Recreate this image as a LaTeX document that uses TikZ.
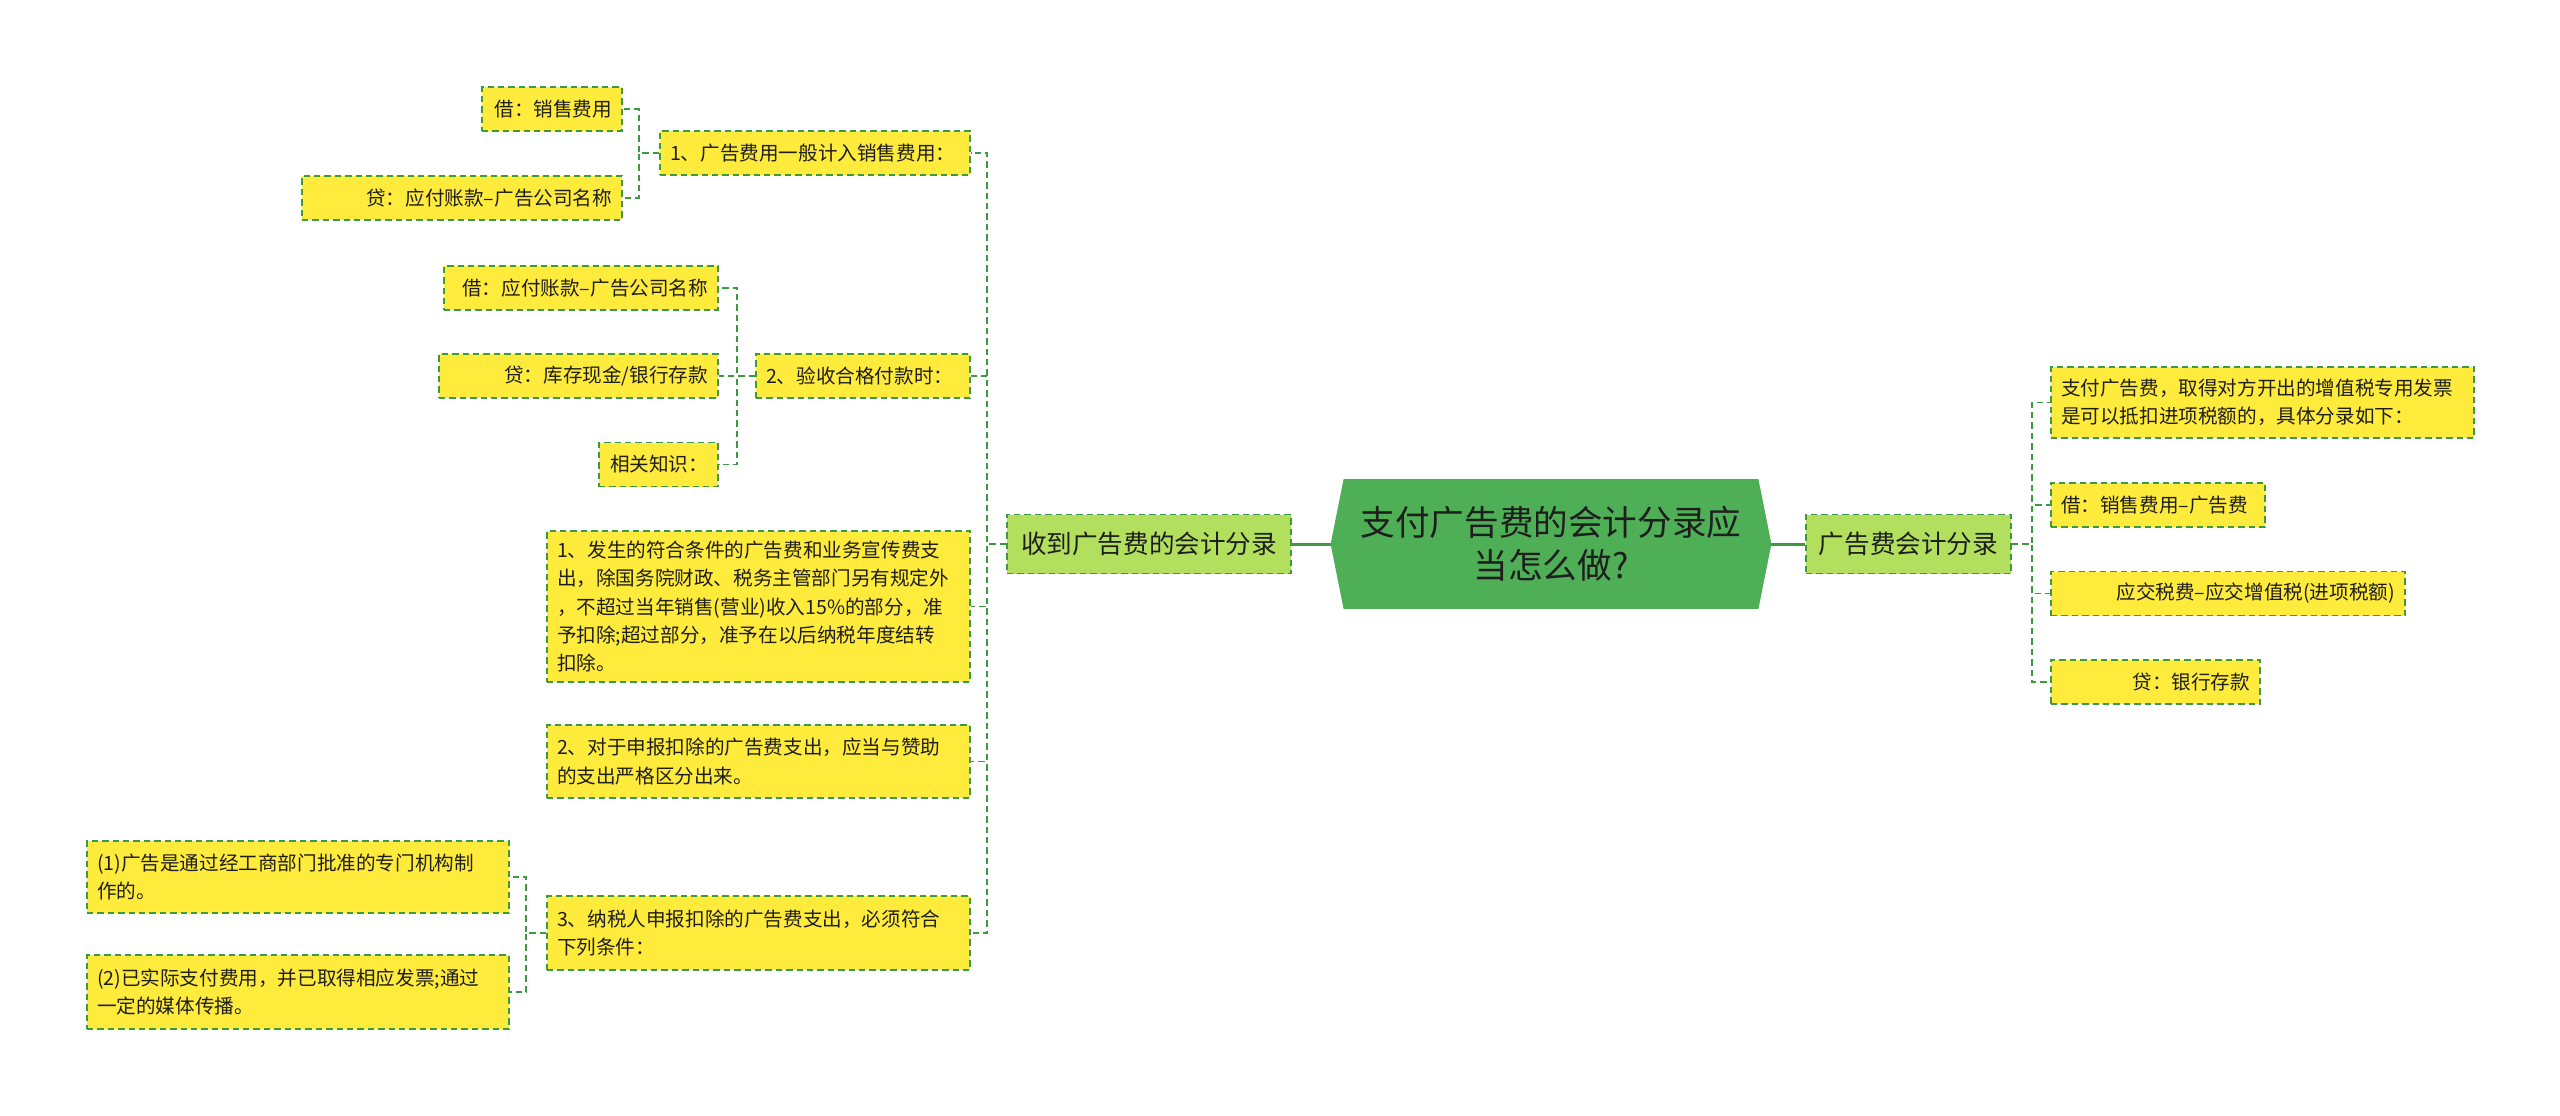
\documentclass[tikz,border=0pt]{standalone}
\usepackage{fontspec}
\setmainfont{Noto Sans CJK SC}
\usetikzlibrary{backgrounds}
\definecolor{yel}{HTML}{FFEB3B}
\definecolor{dgreen}{HTML}{3E9A3E}
\definecolor{lgreen}{HTML}{B2E05E}
\definecolor{cgreen}{HTML}{4FAF57}
\definecolor{txt}{HTML}{1E1E1E}
\begin{document}
\begin{tikzpicture}[x=0.5pt,y=-0.5pt,
  leaf/.style={draw=dgreen, fill=yel, line width=0.75pt, dash pattern=on 3.2pt off 2pt,
    text=txt, font=\fontsize{9.8}{14.2}\selectfont, inner xsep=5pt, inner ysep=2pt,
    minimum height=22pt},
  lvone/.style={draw=dgreen, fill=lgreen, line width=0.75pt, dash pattern=on 3.2pt off 2pt,
    text=txt, font=\fontsize{12.8}{16}\selectfont, inner xsep=5pt, inner ysep=2pt,
    minimum height=29.5pt, align=center},
  conn/.style={draw=dgreen, line width=0.8pt, dash pattern=on 3.2pt off 2pt},
  mainconn/.style={draw=dgreen, line width=1.5pt},
]
\useasboundingbox (0,0) rectangle (2560,1115);

% ---- left branch ----
\node[leaf, minimum width=70pt, text width=60pt, align=right] (a1) at (552,109) {借：销售费用};
\node[leaf, minimum width=160pt, text width=150pt, align=right] (a2) at (462,198) {贷：应付账款–广告公司名称};
\node[leaf, minimum width=155pt, text width=145pt, align=left] (p1) at (815,153) {1、广告费用一般计入销售费用：};

\node[leaf, minimum width=137pt, text width=127pt, align=right] (b1) at (581,288) {借：应付账款–广告公司名称};
\node[leaf, minimum width=139.5pt, text width=129.5pt, align=right] (b2) at (578.5,376) {贷：库存现金/银行存款};
\node[leaf, minimum width=59.5pt, text width=49.5pt, align=right] (b3) at (658.5,464.5) {相关知识：};
\node[leaf, minimum width=107pt, text width=97pt, align=left] (p2) at (863,376) {2、验收合格付款时：};

\node[leaf, minimum width=211.5pt, text width=201.5pt, minimum height=75.5pt, align=left] (p3) at (758.5,606.5)
  {1、发生的符合条件的广告费和业务宣传费支\\出，除国务院财政、税务主管部门另有规定外\\，不超过当年销售(营业)收入15\%的部分，准\\予扣除;超过部分，准予在以后纳税年度结转\\扣除。};
\node[leaf, minimum width=211.5pt, text width=201.5pt, minimum height=36.5pt, align=left] (p4) at (758.5,761.5)
  {2、对于申报扣除的广告费支出，应当与赞助\\的支出严格区分出来。};
\node[leaf, minimum width=211.5pt, text width=201.5pt, minimum height=37pt, align=left] (p5) at (758.5,933)
  {3、纳税人申报扣除的广告费支出，必须符合\\下列条件：};

\node[leaf, minimum width=211pt, text width=201pt, minimum height=36pt, align=left] (c1) at (298,877)
  {(1)广告是通过经工商部门批准的专门机构制\\作的。};
\node[leaf, minimum width=211pt, text width=201pt, minimum height=37pt, align=left] (c2) at (298,992)
  {(2)已实际支付费用，并已取得相应发票;通过\\一定的媒体传播。};

\node[lvone, minimum width=142pt] (L1) at (1149,544) {收到广告费的会计分录};

% ---- centre ----
\node[minimum width=220pt, minimum height=64.5pt, inner sep=0pt, align=center, text=txt,
  font=\fontsize{17.3}{21.3}\selectfont] (C) at (1551,544) {支付广告费的会计分录应\\当怎么做?};

% ---- right branch ----
\node[lvone, minimum width=102.5pt] (R1) at (1908.5,544) {广告费会计分录};
\node[leaf, minimum width=211.5pt, text width=201.5pt, minimum height=35.5pt, align=left] (r1) at (2262.5,402.5)
  {支付广告费，取得对方开出的增值税专用发票\\是可以抵扣进项税额的，具体分录如下：};
\node[leaf, minimum width=107pt, text width=97pt, align=left] (r2) at (2158,505) {借：销售费用–广告费};
\node[leaf, minimum width=177pt, text width=167pt, align=right] (r3) at (2228,593.5) {应交税费–应交增值税(进项税额)};
\node[leaf, minimum width=104.5pt, text width=94.5pt, align=right] (r4) at (2155.5,682) {贷：银行存款};

\begin{scope}[on background layer]
  \fill[white] (0,0) rectangle (2560,1115);
  \fill[cgreen] (C.west) -- ([xshift=6.5pt]C.north west) -- ([xshift=-6.5pt]C.north east)
     -- (C.east) -- ([xshift=-6.5pt]C.south east) -- ([xshift=6.5pt]C.south west) -- cycle;
\end{scope}

% ---- connectors ----
\draw[mainconn] (L1.east) -- (C.west);
\draw[mainconn] (C.east) -- (R1.west);

\foreach \n in {p1,p2,p3,p4,p5} \draw[conn] (L1.west) -- ++(-19,0) |- (\n.east);
\foreach \n in {a1,a2} \draw[conn] (p1.west) -- ++(-20,0) |- (\n.east);
\foreach \n in {b1,b2,b3} \draw[conn] (p2.west) -- ++(-18,0) |- (\n.east);
\foreach \n in {c1,c2} \draw[conn] (p5.west) -- ++(-20,0) |- (\n.east);
\foreach \n in {r1,r2,r3,r4} \draw[conn] (R1.east) -- ++(20,0) |- (\n.west);
\end{tikzpicture}
\end{document}
